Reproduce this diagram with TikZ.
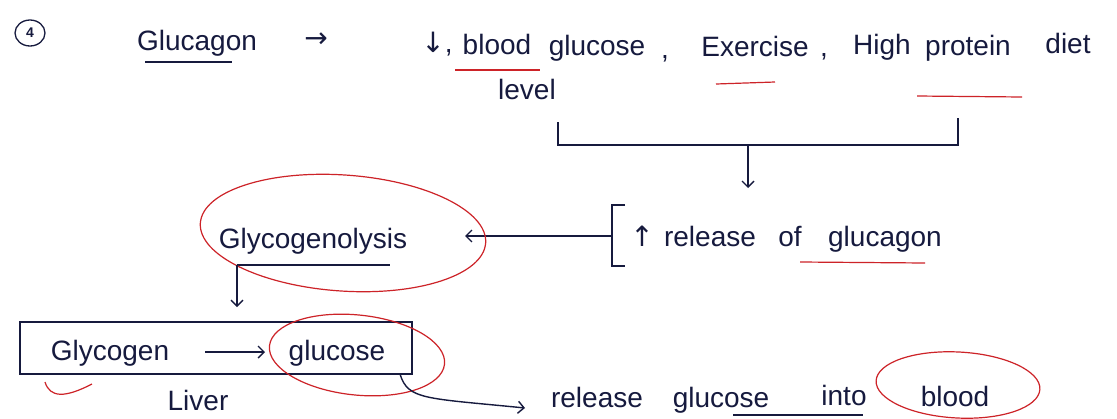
\documentclass[tikz,border=0pt]{standalone}
\usepackage{fontspec}
\setmainfont{Liberation Sans}
\newfontfamily\symf{DejaVu Sans}
\usetikzlibrary{arrows.meta,shapes.geometric}
\definecolor{ink}{RGB}{22,26,62}
\definecolor{redink}{RGB}{205,35,40}
\begin{document}
\begin{tikzpicture}[x=1pt,y=-1pt,
  txt/.style={text=ink, font=\fontsize{28}{32}\selectfont, inner sep=1pt, anchor=base},
  inkline/.style={draw=ink, line width=1.4pt},
  redline/.style={draw=redink, line width=1.2pt},
  arr/.style={-{Straight Barb[length=6pt,width=12pt]}}]
\useasboundingbox[fill=white] (0,0) rectangle (1117,418);
% header
\node[ellipse,draw=ink,line width=1.3pt,minimum width=30pt,minimum height=26pt,inner sep=0pt,text=ink,font=\fontsize{14}{14}\selectfont\bfseries] (num) at (30,33) {4};
\node[txt] (glucagon) at (197,50) {Glucagon};
\draw[inkline] (145,62) -- (232,62);
\node[txt] (harrow) at (316,47) {\symf →};
\node[txt] (down) at (437,52) {{\symf ↓},};
\node[txt] (bloodw) at (497,54) {blood};
\node[txt] (glucw) at (597,55) {glucose};
\node[txt] (level) at (527,99) {level};
\node[txt] (c1) at (665,58) {,};
\node[txt] (exercise) at (755,56) {Exercise};
\node[txt] (c2) at (824,56) {,};
\node[txt] (high) at (882,54) {High};
\node[txt] (protein) at (968,55) {protein};
\node[txt] (diet) at (1068,53) {diet};
\draw[redline] (455,70) -- (540,70);
\draw[redline] (716,84) -- (775,82);
\draw[redline] (917,96) -- (1022,97);
% bracket joining the causes
\coordinate (bl) at (558,122);
\coordinate (br) at (958,118);
\coordinate (bm) at (748,145);
\draw[inkline] (bl) |- (bm) -| (br);
\node[txt] (up) at (642,246) {\symf ↑};
\node[txt] (release) at (710,246) {release};
\node[txt] (of) at (790,246) {of};
\node[txt] (glucagon2) at (885,246) {glucagon};
\draw[inkline,arr] (bm) -- (748,188);
\draw[redline] (800,262) -- (925,263);
\draw[inkline] (625,205) -- (612,205) -- (612,266) -- (625,266);
\coordinate (lb) at (612,236);
% glycogenolysis
\node[txt] (glyco) at (313,248) {Glycogenolysis};
\coordinate (gtip) at (465,236);
\draw[inkline,arr] (lb) -- (gtip);
\draw[inkline] (237,265) -- (390,265);
\draw[redline,rotate around={-4:(343,233)}] (343,233) ellipse [x radius=143pt, y radius=58pt];
\coordinate (gd) at (237,265);
\coordinate (gdt) at (237,307);
\draw[inkline,arr] (gd) -- (gdt);
% liver box
\node[draw=ink,line width=1.4pt,minimum width=392pt,minimum height=52pt] (box) at (216,348) {};
\node[txt] (glycogen) at (110,360) {Glycogen};
\node[txt] (glucose) at (337,360) {glucose};
\coordinate (ga) at (205,352);
\coordinate (gb) at (265,352);
\draw[inkline,arr] (ga) -- (gb);
\draw[redline,rotate around={-6:(357,355)}] (357,355) ellipse [x radius=88pt, y radius=40pt];
\node[txt] (liver) at (198,410) {Liver};
\draw[redline] (45,382) .. controls (50,398) and (65,398) .. (92,384);
% release into blood
\coordinate (bs) at (400,374);
\coordinate (be) at (525,408);
\node[txt] (rel3) at (597,407) {release};
\node[txt] (gl3) at (721,407) {glucose};
\node[txt] (into) at (844,405) {into};
\draw[inkline,arr] (bs) .. controls (408,400) and (425,398) .. (be);
\draw[inkline] (733,415) -- (863,415);
\node[txt] (blood2) at (955,406) {blood};
\draw[redline,rotate around={-3:(958,385)}] (958,385) ellipse [x radius=82pt, y radius=33pt];
\end{tikzpicture}
\end{document}
